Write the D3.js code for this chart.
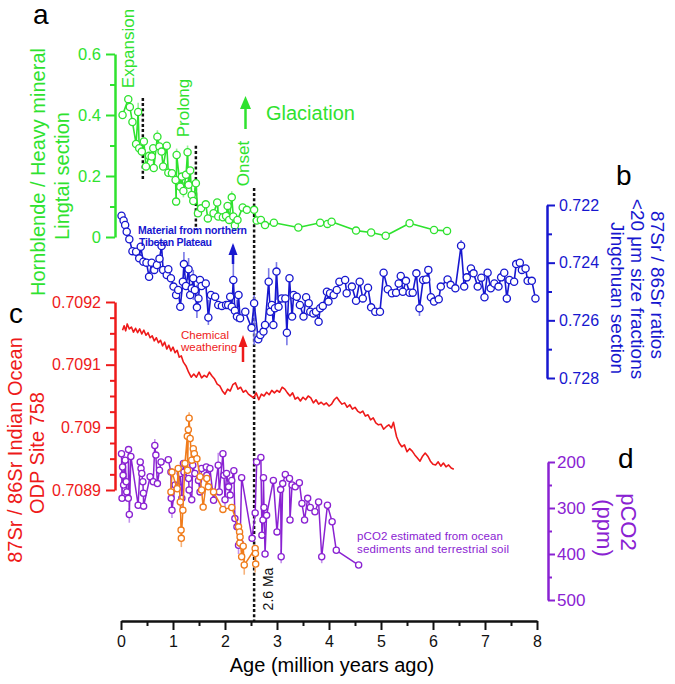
<!DOCTYPE html>
<html><head><meta charset="utf-8">
<script src="https://cdn.jsdelivr.net/npm/d3@7"></script>
<style>
body{margin:0;background:#fff;}
svg{display:block;font-family:"Liberation Sans",Arial,sans-serif;}
</style></head><body>
<svg id="c" width="675" height="684"></svg>
<script>
// ---------- tick labels ----------
const xTicks=[0,1,2,3,4,5,6,7,8];
const xMinor=[0.5,1.5,2.5,3.5,4.5,5.5,6.5,7.5];
const greenTicks=[0,0.2,0.4,0.6];
const greenMinor=[0.1,0.3,0.5];
const blueTicks=[0.722,0.724,0.726,0.728];
const blueMinor=[0.723,0.725,0.727];
const redTicks=[0.7089,0.709,0.7091,0.7092];
const redMinor=[0.708925,0.70895,0.708975,0.709025,0.70905,0.709075,0.709125,0.70915,0.709175];
const pco2Ticks=[200,300,400,500];
const pco2Minor=[250,350,450];

// ---------- a: Hornblende / heavy mineral (Lingtai) ----------
const greenAge=[0.03,0.14,0.17,0.22,0.29,0.33,0.35,0.40,0.44,0.48,0.54,0.59,0.62,0.63,0.70,0.74,0.78,0.81,0.88,0.91,0.98,1.05,1.06,1.07,1.14,1.17,1.20,1.25,1.28,1.30,1.33,1.36,1.39,1.44,1.48,1.54,1.63,1.67,1.78,1.85,1.87,1.96,2.02,2.05,2.08,2.13,2.16,2.19,2.24,2.34,2.42,2.56,2.61,2.69,2.77,2.94,3.41,3.83,3.97,4.05,4.52,4.81,5.09,5.55,6.02,6.27];
const greenVal=[0.400,0.452,0.426,0.377,0.305,0.410,0.291,0.280,0.313,0.231,0.266,0.264,0.291,0.226,0.329,0.297,0.280,0.231,0.299,0.211,0.209,0.187,0.116,0.269,0.165,0.198,0.151,0.204,0.278,0.171,0.218,0.138,0.118,0.176,0.078,0.094,0.107,0.061,0.078,0.113,0.067,0.065,0.069,0.102,0.056,0.130,0.067,0.038,0.056,0.097,0.089,0.089,0.054,0.056,0.039,0.047,0.031,0.047,0.043,0.050,0.021,0.015,0.004,0.045,0.023,0.020];
const greenBarAge=[0.33,0.70,1.07,1.20,1.28,1.87,2.13];
const greenBarLo=[0.36,0.30,0.24,0.13,0.24,0.055,0.10];
const greenBarHi=[0.44,0.35,0.29,0.18,0.30,0.10,0.15];

// ---------- b: 87Sr/86Sr <20 um (Jingchuan) ----------
const blueAge=[0.01,0.05,0.08,0.11,0.16,0.22,0.29,0.35,0.38,0.43,0.49,0.54,0.59,0.64,0.69,0.74,0.78,0.81,0.88,0.91,0.96,1.01,1.06,1.10,1.14,1.19,1.21,1.25,1.30,1.33,1.36,1.39,1.42,1.46,1.49,1.52,1.55,1.63,1.68,1.73,1.81,1.87,1.94,2.02,2.06,2.10,2.13,2.16,2.19,2.23,2.26,2.29,2.39,2.51,2.56,2.64,2.68,2.74,2.77,2.84,2.87,2.90,2.93,2.96,2.99,3.03,3.09,3.16,3.19,3.24,3.29,3.32,3.38,3.44,3.51,3.56,3.61,3.64,3.70,3.75,3.80,3.83,3.88,3.96,3.99,4.02,4.09,4.15,4.20,4.31,4.34,4.44,4.52,4.59,4.65,4.75,4.81,4.89,4.98,5.05,5.13,5.21,5.29,5.34,5.38,5.42,5.48,5.55,5.61,5.68,5.74,5.81,5.87,5.91,5.96,6.02,6.11,6.15,6.28,6.34,6.43,6.54,6.60,6.65,6.73,6.78,6.86,6.93,6.99,7.05,7.11,7.18,7.26,7.31,7.37,7.42,7.47,7.56,7.60,7.67,7.71,7.78,7.82,7.90,7.97];
const blueVal=[0.72237,0.72254,0.72269,0.72293,0.72319,0.72360,0.72362,0.72385,0.72345,0.72397,0.72400,0.72449,0.72400,0.72425,0.72408,0.72386,0.72342,0.72425,0.72443,0.72423,0.72454,0.72483,0.72512,0.72495,0.72553,0.72466,0.72405,0.72481,0.72423,0.72512,0.72489,0.72454,0.72495,0.72555,0.72524,0.72460,0.72481,0.72472,0.72590,0.72512,0.72518,0.72547,0.72550,0.72547,0.72547,0.72518,0.72553,0.72460,0.72567,0.72587,0.72512,0.72593,0.72570,0.72626,0.72541,0.72666,0.72651,0.72639,0.72616,0.72466,0.72570,0.72547,0.72616,0.72558,0.72431,0.72553,0.72524,0.72524,0.72643,0.72454,0.72587,0.72512,0.72518,0.72547,0.72587,0.72520,0.72541,0.72570,0.72576,0.72570,0.72605,0.72558,0.72550,0.72501,0.72535,0.72506,0.72512,0.72495,0.72466,0.72460,0.72506,0.72483,0.72532,0.72466,0.72524,0.72487,0.72555,0.72570,0.72570,0.72435,0.72492,0.72506,0.72504,0.72472,0.72446,0.72501,0.72463,0.72504,0.72504,0.72437,0.72558,0.72460,0.72458,0.72425,0.72520,0.72535,0.72527,0.72483,0.72458,0.72477,0.72489,0.72341,0.72483,0.72451,0.72420,0.72437,0.72483,0.72452,0.72520,0.72435,0.72489,0.72472,0.72483,0.72451,0.72435,0.72524,0.72460,0.72466,0.72405,0.72400,0.72425,0.72420,0.72463,0.72463,0.72524];
const blueBarAge=[1.21,1.30,1.39,1.46,1.68,2.16,2.23,2.56,2.84,2.99,3.19,5.74,6.54,7.42];
const blueBarLo=[0.72363,0.72384,0.72425,0.72477,0.72529,0.72339,0.72529,0.72512,0.72419,0.72398,0.72582,0.72529,0.72321,0.72495];
const blueBarHi=[0.72443,0.72460,0.72529,0.72592,0.72616,0.72495,0.72606,0.72686,0.72495,0.72529,0.72686,0.72585,0.72363,0.72540];

// ---------- c: 87Sr/86Sr Indian Ocean ODP 758 ----------
const redAge=[0.03,0.06,0.09,0.12,0.16,0.20,0.24,0.28,0.32,0.36,0.40,0.44,0.48,0.52,0.56,0.60,0.64,0.68,0.72,0.76,0.80,0.84,0.88,0.92,0.96,1.00,1.04,1.08,1.12,1.16,1.20,1.25,1.30,1.35,1.40,1.45,1.50,1.55,1.60,1.65,1.70,1.75,1.80,1.85,1.90,1.95,2.00,2.05,2.10,2.15,2.20,2.25,2.30,2.35,2.40,2.45,2.50,2.55,2.60,2.65,2.70,2.75,2.80,2.85,2.90,2.95,3.00,3.05,3.10,3.15,3.20,3.25,3.30,3.35,3.40,3.45,3.50,3.55,3.60,3.65,3.70,3.75,3.80,3.85,3.90,3.95,4.00,4.05,4.10,4.15,4.20,4.25,4.30,4.35,4.40,4.45,4.50,4.55,4.60,4.65,4.70,4.75,4.80,4.85,4.90,4.95,5.00,5.05,5.10,5.15,5.20,5.24,5.27,5.30,5.35,5.40,5.45,5.50,5.55,5.60,5.65,5.70,5.75,5.80,5.85,5.90,5.95,6.00,6.05,6.10,6.15,6.20,6.25,6.30,6.35,6.40];
const redVal=[0.709155,0.709162,0.709154,0.709165,0.709157,0.709160,0.709152,0.709158,0.709151,0.709157,0.709149,0.709155,0.709147,0.709151,0.709143,0.709146,0.709138,0.709143,0.709135,0.709139,0.709130,0.709136,0.709125,0.709131,0.709122,0.709128,0.709119,0.709123,0.709112,0.709114,0.709104,0.709098,0.709088,0.709080,0.709085,0.709080,0.709088,0.709079,0.709083,0.709080,0.709088,0.709082,0.709077,0.709069,0.709066,0.709058,0.709053,0.709061,0.709058,0.709068,0.709071,0.709061,0.709064,0.709056,0.709059,0.709053,0.709050,0.709047,0.709055,0.709044,0.709053,0.709050,0.709056,0.709052,0.709059,0.709055,0.709059,0.709056,0.709064,0.709061,0.709055,0.709050,0.709055,0.709045,0.709048,0.709042,0.709048,0.709044,0.709050,0.709047,0.709039,0.709044,0.709037,0.709040,0.709036,0.709039,0.709034,0.709037,0.709044,0.709048,0.709042,0.709037,0.709039,0.709032,0.709036,0.709029,0.709032,0.709026,0.709023,0.709026,0.709018,0.709020,0.709012,0.709015,0.709007,0.709004,0.709005,0.708997,0.709001,0.709004,0.708999,0.709008,0.708996,0.708985,0.708975,0.708969,0.708972,0.708961,0.708966,0.708962,0.708956,0.708951,0.708946,0.708954,0.708959,0.708954,0.708946,0.708941,0.708940,0.708945,0.708938,0.708943,0.708937,0.708940,0.708935,0.708933];

// ---------- d: pCO2 ----------
const purpleAge=[0.01,0.02,0.03,0.04,0.05,0.08,0.10,0.11,0.14,0.145,0.16,0.19,0.33,0.37,0.385,0.40,0.42,0.43,0.435,0.56,0.62,0.65,0.67,0.70,0.74,0.77,0.91,0.96,0.965,0.98,1.04,1.10,1.14,1.17,1.20,1.21,1.30,1.31,1.36,1.38,1.42,1.49,1.52,1.55,1.64,1.65,1.71,1.78,1.87,1.89,1.96,1.98,2.00,2.03,2.07,2.10,2.13,2.17,2.19,2.23,2.26,2.29,2.32,2.52,2.58,2.61,2.69,2.71,2.73,2.74,2.75,2.77,2.80,2.93,3.00,3.07,3.08,3.11,3.16,3.24,3.25,3.29,3.35,3.43,3.48,3.53,3.59,3.64,3.73,3.80,3.86,3.97,4.06,4.14,4.57];
const purpleVal=[182,279,211,229,250,196,243,265,279,173,314,188,294,200,214,225,243,268,296,232,243,164,185,247,218,200,195,222,279,305,250,254,225,279,203,222,236,261,282,207,225,240,265,214,211,229,214,283,207,265,182,229,282,225,254,272,240,219,323,341,381,376,234,366,311,200,190,359,326,234,299,400,316,240,352,260,406,247,227,236,326,250,254,245,290,326,279,299,308,287,406,294,330,392,424];
const purpleBarAge=[0.16,0.65,0.98,1.17,1.87,2.00,2.26,3.08,3.86];
const purpleBarLo=[300,150,290,270,180,265,365,390,390];
const purpleBarHi=[332,180,322,302,230,300,400,420,420];
const orangeAge=[0.96,0.98,1.08,1.10,1.14,1.155,1.16,1.19,1.23,1.275,1.28,1.295,1.31,1.33,1.36,1.39,1.41,1.46,1.52,1.55,1.58,1.65,1.68,1.78,1.96,2.13,2.26,2.28,2.285,2.29,2.32,2.35,2.37,2.58,2.585,2.59];
const orangeVal=[265,222,258,214,287,348,366,305,203,144,218,130,105,149,196,171,182,193,232,261,298,236,254,265,303,299,341,352,376,363,406,383,424,388,399,422];
const orangeBarAge=[1.31,1.16,2.37,2.58];
const orangeBarLo=[92,350,400,400];
const orangeBarHi=[125,385,445,440];

// ---------- event markers ----------
const eventAge=[0.42,1.44,2.56];
const eventTop=[0.456,0.299,0.161];
const eventBottom=[0.187,0.023,0];

const svg=d3.select('#c');
const FONT='"Liberation Sans",Arial,sans-serif';
const C={green:'#2fe22f',blue:'#1717cf',red:'#ee1a1a',purple:'#8a22d2',orange:'#f07c1c',black:'#111'};
const CL={green:'#9af09a',blue:'#7a7ae6',purple:'#c392ec',orange:'#f7b27a'};

const x=d3.scaleLinear([0,8],[121,537]);
const yG=d3.scaleLinear([0,0.6],[237,54]);
const yB=d3.scaleLinear([0.722,0.728],[205,378]);
const yR=d3.scaleLinear([0.7089,0.7092],[490,302]);
const yP=d3.scaleLinear([200,500],[462,600]);
const xAxisY=621;

function styleAxis(g,color,fs,dw){
  g.select('.domain').attr('stroke',color).attr('stroke-width',dw);
  g.selectAll('.tick line').attr('stroke',color).attr('stroke-width',2);
  g.selectAll('.tick text').attr('fill',color).attr('font-size',fs).attr('font-family',FONT);
}
function axisPair(maker,scale,major,minor,pos,color,fs,size,pad,fmt){
  const g=svg.append('g').attr('transform',pos);
  g.call(maker(scale).tickValues(major).tickSize(size).tickPadding(pad).tickSizeOuter(0).tickFormat(fmt));
  styleAxis(g,color,fs,2.5);
  const m=svg.append('g').attr('transform',pos);
  m.call(maker(scale).tickValues(minor).tickSize(Math.round(size*0.6)).tickFormat(''));
  m.select('.domain').remove();
  m.selectAll('.tick line').attr('stroke',color).attr('stroke-width',2);
}
const fmt=d=>String(d);
axisPair(d3.axisLeft,yG,greenTicks,greenMinor,'translate(115,0)',C.green,16.5,9,5,fmt);
axisPair(d3.axisLeft,yR,redTicks,redMinor,'translate(115,0)',C.red,16,9,5,fmt);
axisPair(d3.axisRight,yB,blueTicks,blueMinor,'translate(547,0)',C.blue,16,8,4,fmt);
axisPair(d3.axisRight,yP,pco2Ticks,pco2Minor,'translate(548,0)',C.purple,17,7,2,fmt);
axisPair(d3.axisBottom,x,xTicks,xMinor,`translate(0,${xAxisY})`,C.black,16,9,6,fmt);

// event dashed lines
eventAge.forEach((a,i)=>{
  svg.append('line').attr('x1',x(a)).attr('x2',x(a))
    .attr('y1',yG(eventTop[i])).attr('y2',i===2?xAxisY:yG(eventBottom[i]))
    .attr('stroke','#111').attr('stroke-width',2.5).attr('stroke-dasharray','3,2.2');
});

function bars(ages,lo,hi,ys,color){
  svg.append('g').selectAll('line').data(ages.map((a,i)=>[a,lo[i],hi[i]])).join('line')
    .attr('x1',d=>x(d[0])).attr('x2',d=>x(d[0])).attr('y1',d=>ys(d[1])).attr('y2',d=>ys(d[2]))
    .attr('stroke',color).attr('stroke-width',1.6);
}
function series(ages,vals,ys,color,r,lw,marker){
  const d=ages.map((a,i)=>[a,vals[i]]);
  svg.append('path').datum(d).attr('fill','none').attr('stroke',color).attr('stroke-width',lw)
    .attr('stroke-linejoin','round').attr('d',d3.line().x(p=>x(p[0])).y(p=>ys(p[1])));
  if(marker){
    svg.append('g').selectAll('circle').data(d).join('circle')
      .attr('cx',p=>x(p[0])).attr('cy',p=>ys(p[1])).attr('r',r)
      .attr('fill','#fff').attr('stroke',color).attr('stroke-width',1.3);
  }
}
series(redAge,redVal,yR,C.red,0,1.6,false);
bars(greenBarAge,greenBarLo,greenBarHi,yG,CL.green);
series(greenAge,greenVal,yG,C.green,3.6,1.6,true);
bars(blueBarAge,blueBarLo,blueBarHi,yB,CL.blue);
series(blueAge,blueVal,yB,C.blue,3.6,1.6,true);
bars(purpleBarAge,purpleBarLo,purpleBarHi,yP,CL.purple);
series(purpleAge,purpleVal,yP,C.purple,3.1,1.5,true);
bars(orangeBarAge,orangeBarLo,orangeBarHi,yP,CL.orange);
series(orangeAge,orangeVal,yP,C.orange,3.1,1.5,true);

// text helper
function txt(t,xx,yy,opt){
  const e=svg.append('text').attr('x',xx).attr('y',yy).text(t)
    .attr('font-family',FONT).attr('font-size',opt.fs||16).attr('fill',opt.fill||'#000')
    .attr('text-anchor',opt.anchor||'start');
  if(opt.rot) e.attr('transform',`rotate(${opt.rot},${xx},${yy})`);
  if(opt.fw) e.attr('font-weight',opt.fw);
  if(opt.len) e.attr('textLength',opt.len).attr('lengthAdjust','spacing');
  return e;
}
// panel letters
txt('a',33,24,{fs:28});
txt('b',616,185,{fs:28});
txt('c',9,323,{fs:28});
txt('d',618,468,{fs:28});

// axis titles
txt('Hornblende / Heavy mineral',45,172,{fs:20,fill:C.green,anchor:'middle',rot:-90});
txt('Lingtai section',69,176,{fs:20,fill:C.green,anchor:'middle',rot:-90});
txt('87Sr / 86Sr Indian Ocean',22,450,{fs:20,fill:C.red,anchor:'middle',rot:-90});
txt('ODP Site  758',44,453,{fs:20,fill:C.red,anchor:'middle',rot:-90});
txt('87Sr / 86Sr ratios',651,285,{fs:19,fill:C.blue,anchor:'middle',rot:90});
txt('<20 μm size fractions',631,289,{fs:19,fill:C.blue,anchor:'middle',rot:90});
txt('Jingchuan section',611,298,{fs:19,fill:C.blue,anchor:'middle',rot:90});
txt('pCO2',621,522,{fs:22,fill:C.purple,anchor:'middle',rot:90});
txt('(ppm)',597,528,{fs:22,fill:C.purple,anchor:'middle',rot:90});
txt('Age (million years ago)',(x(0)+x(8))/2+3,672,{fs:20,anchor:'middle'});

// annotations
txt('Expansion',134,48.5,{fs:17,fill:C.green,anchor:'middle',rot:-90});
txt('Prolong',189,108,{fs:17,fill:C.green,anchor:'middle',rot:-90});
txt('Onset',249,163.5,{fs:17,fill:C.green,anchor:'middle',rot:-90});
txt('Glaciation',266,120,{fs:20,fill:C.green});
txt('2.6 Ma',273,589,{fs:14,fill:'#111',anchor:'middle',rot:-90});
txt('Material from  northern',138,234,{fs:10.5,fill:C.blue,fw:'bold',len:109});
txt('Tibetan Plateau',139,246,{fs:10.5,fill:C.blue,fw:'bold',len:73});
txt('Chemical',181,339,{fs:11.5,fill:C.red});
txt('weathering',181,351,{fs:11.5,fill:C.red});
txt('pCO2 estimated from ocean',357,540,{fs:11.5,fill:C.purple,len:146});
txt('sediments and terrestrial soil',357,553,{fs:11.5,fill:C.purple,len:152});

// arrows
function arrow(xx,y0,y1,color,hw,hh){
  svg.append('line').attr('x1',xx).attr('x2',xx).attr('y1',y0).attr('y2',y1+hh-1)
    .attr('stroke',color).attr('stroke-width',2.5);
  svg.append('path').attr('d',`M${xx-hw/2},${y1+hh}L${xx},${y1}L${xx+hw/2},${y1+hh}Z`).attr('fill',color);
}
arrow(245.5,129,96,C.green,11,13);
arrow(233,264,243,C.blue,9,12);
arrow(243,362,335,C.red,9,12);
</script>
</body></html>
